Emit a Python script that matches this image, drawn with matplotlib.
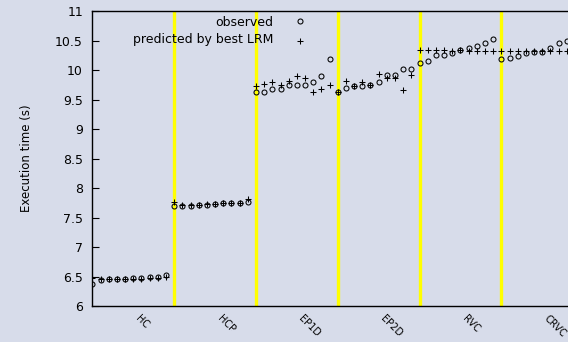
import matplotlib
matplotlib.use("Agg")
import matplotlib.pyplot as plt
import numpy as np

categories = ["HC", "HCP", "EP1D", "EP2D", "RVC", "CRVC"]

observed = [
    # HC
    6.38, 6.44, 6.45, 6.45, 6.46, 6.47, 6.48, 6.49, 6.50, 6.52,
    # HCP
    7.69, 7.70, 7.70, 7.71, 7.72, 7.73, 7.74, 7.74, 7.75, 7.77,
    # EP1D
    9.63, 9.63, 9.67, 9.67, 9.74, 9.74, 9.74, 9.79, 9.89, 10.18,
    # EP2D
    9.62, 9.69, 9.73, 9.73, 9.74, 9.80, 9.91, 9.91, 10.02, 10.02,
    # RVC
    10.12, 10.16, 10.26, 10.26, 10.29, 10.34, 10.37, 10.41, 10.46, 10.53,
    # CRVC (last point outside the visible area)
    10.18, 10.20, 10.24, 10.29, 10.31, 10.31, 10.37, 10.45, 10.49,
]

predicted = [
    6.48, 6.45, 6.45, 6.45, 6.45, 6.46, 6.46, 6.47, 6.48, 6.49,
    7.77, 7.72, 7.72, 7.72, 7.73, 7.73, 7.74, 7.74, 7.75, 7.81,
    9.73, 9.76, 9.79, 9.75, 9.82, 9.89, 9.87, 9.62, 9.67, 9.75,
    9.63, 9.82, 9.73, 9.80, 9.75, 9.94, 9.86, 9.86, 9.66, 9.92,
    10.34, 10.34, 10.34, 10.34, 10.33, 10.34, 10.33, 10.33, 10.33, 10.33,
    10.33, 10.33, 10.33, 10.33, 10.33, 10.33, 10.33, 10.33, 10.33,
]

separators = [10, 20, 30, 40, 50]
category_pos = [5, 15, 25, 35, 45, 55]
yticks = [6, 6.5, 7, 7.5, 8, 8.5, 9, 9.5, 10, 10.5, 11]
ytick_labels = ["6", "6.5", "7", "7.5", "8", "8.5", "9", "9.5", "10", "10.5", "11"]

bg = "#d7dcea"
fig = plt.figure(figsize=(5.68, 3.42), dpi=100, facecolor=bg)
ax = fig.add_axes([92 / 568, 1 - 306 / 342, 1 - 92 / 568, (306 - 11) / 342])
ax.set_facecolor(bg)

for s in separators:
    ax.axvline(s, color="#ffff00", lw=2.4, zorder=1)

x_obs = np.arange(len(observed))
x_pred = np.arange(len(predicted))
ax.plot(x_obs, observed, linestyle="none", marker="o", markersize=3.6,
        markerfacecolor="none", markeredgecolor="black", markeredgewidth=0.75, zorder=3)
ax.plot(x_pred, predicted, linestyle="none", marker="+", markersize=4.2,
        color="black", markeredgewidth=0.75, zorder=3)

ax.set_xlim(-0.05, 58.15)
ax.set_ylim(6, 11)
ax.set_yticks(yticks)
ax.set_yticklabels(ytick_labels, fontsize=9)
ax.tick_params(axis="y", direction="in", length=5, width=0.8, pad=6.5, colors="black")
ax.set_xticks(category_pos)
ax.set_xticklabels(categories, rotation=-45, ha="left", va="top",
                   rotation_mode="default", fontsize=7)
ax.tick_params(axis="x", length=0, pad=5)

ax.spines["right"].set_visible(False)
for sp in ["left", "top", "bottom"]:
    ax.spines[sp].set_linewidth(1.0)
    ax.spines[sp].set_color("black")

ax.set_ylabel("Execution time (s)", fontsize=8.5)
ax.yaxis.set_label_coords(-(92 - 33) / (568 - 92), 0.5)

# legend (gnuplot style)
fig.text(273 / 568, 1 - 22 / 342, "observed", ha="right", va="center", fontsize=9)
fig.text(273 / 568, 1 - 40 / 342, "predicted by best LRM", ha="right", va="center", fontsize=9)
leg_ax = fig.add_axes([0, 0, 1, 1], facecolor="none")
leg_ax.set_xlim(0, 568)
leg_ax.set_ylim(342, 0)
leg_ax.axis("off")
leg_ax.plot([300], [21], linestyle="none", marker="o", markersize=3.6,
            markerfacecolor="none", markeredgecolor="black", markeredgewidth=0.75)
leg_ax.plot([300], [41], linestyle="none", marker="+", markersize=4.2,
            color="black", markeredgewidth=0.75)

fig.savefig("out.png", dpi=100, facecolor=bg)
